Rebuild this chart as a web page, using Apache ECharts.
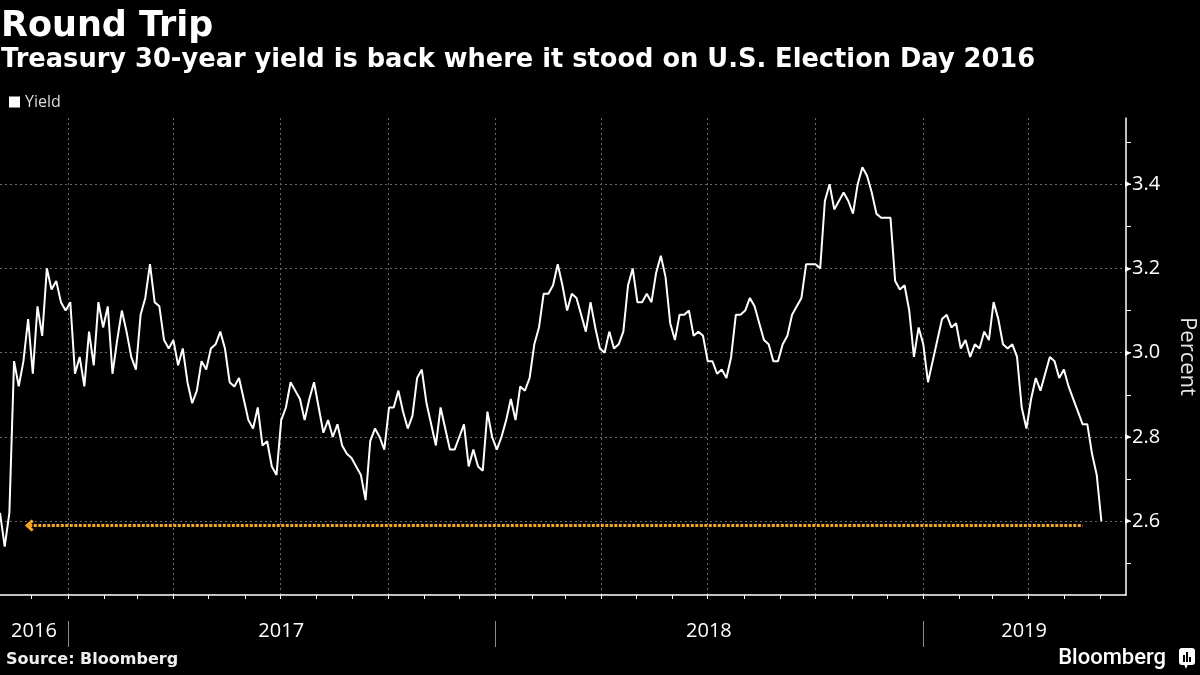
<!DOCTYPE html>
<html><head><meta charset="utf-8">
<script src="https://cdn.jsdelivr.net/npm/echarts@6/dist/echarts.min.js"></script>
<style>html,body{margin:0;background:#000}#c{width:1200px;height:675px}</style>
</head><body><div id="c"></div>
<script>
// ---- data ----
const seriesName = 'Yield';
const startDate = [2016, 10, 4]; // 2016-11-04 (first sample)
const stepDays = 4;              // one sample every 4 days
const yields = [
  2.62,2.54,2.62,2.98,2.92,2.98,3.08,2.95,3.11,3.04,
  3.20,3.15,3.17,3.12,3.10,3.12,2.95,2.99,2.92,3.05,
  2.97,3.12,3.06,3.11,2.95,3.03,3.10,3.05,2.99,2.96,
  3.09,3.13,3.21,3.12,3.11,3.03,3.01,3.03,2.97,3.01,
  2.93,2.88,2.91,2.98,2.96,3.01,3.02,3.05,3.01,2.93,
  2.92,2.94,2.89,2.84,2.82,2.87,2.78,2.79,2.73,2.71,
  2.84,2.87,2.93,2.91,2.89,2.84,2.89,2.93,2.87,2.81,
  2.84,2.80,2.83,2.78,2.76,2.75,2.73,2.71,2.65,2.79,
  2.82,2.80,2.77,2.87,2.87,2.91,2.86,2.82,2.85,2.94,
  2.96,2.88,2.83,2.78,2.87,2.82,2.77,2.77,2.80,2.83,
  2.73,2.77,2.73,2.72,2.86,2.80,2.77,2.80,2.84,2.89,
  2.84,2.92,2.91,2.94,3.02,3.06,3.14,3.14,3.16,3.21,
  3.16,3.10,3.14,3.13,3.09,3.05,3.12,3.06,3.01,3.00,
  3.05,3.01,3.02,3.05,3.16,3.20,3.12,3.12,3.14,3.12,
  3.19,3.23,3.18,3.07,3.03,3.09,3.09,3.10,3.04,3.05,
  3.04,2.98,2.98,2.95,2.96,2.94,2.99,3.09,3.09,3.10,
  3.13,3.11,3.07,3.03,3.02,2.98,2.98,3.02,3.04,3.09,
  3.11,3.13,3.21,3.21,3.21,3.20,3.36,3.40,3.34,3.36,
  3.38,3.36,3.33,3.40,3.44,3.42,3.38,3.33,3.32,3.32,
  3.32,3.17,3.15,3.16,3.10,2.99,3.06,3.02,2.93,2.98,
  3.03,3.08,3.09,3.06,3.07,3.01,3.03,2.99,3.02,3.01,
  3.05,3.03,3.12,3.08,3.02,3.01,3.02,2.99,2.87,2.82,
  2.89,2.94,2.91,2.95,2.99,2.98,2.94,2.96,2.92,2.89,
  2.86,2.83,2.83,2.76,2.71,2.60
];
const electionDayYield = 2.59;
const electionLineFrom = '2016-11-29';
const electionLineTo = '2019-05-17';
const xMin = '2016-11-04';
const xMax = '2019-06-23';
const yMin = 2.425, yMax = 3.557;
const yLabelValues = [2.6, 2.8, 3.0, 3.2, 3.4];
const yTickValues = [2.5, 2.6, 2.7, 2.8, 2.9, 3.0, 3.1, 3.2, 3.3, 3.4, 3.5];
const yearLabels = ['2016', '2017', '2018', '2019'];
const yearLabelDates = ['2016-12-03', '2017-07-02', '2018-07-02', '2019-03-28'];
const yearStarts = ['2017-01-01', '2018-01-01', '2019-01-01'];
const gridQuarterStarts = ['2017-01-01','2017-04-01','2017-07-01','2017-10-01','2018-01-01','2018-04-01','2018-07-01','2018-10-01','2019-01-01','2019-04-01'];
const titleText = 'Round Trip';
const subtitleText = 'Treasury 30-year yield is back where it stood on U.S. Election Day 2016';
const sourceText = 'Source: Bloomberg';
const axisName = 'Percent';

// ---- helpers ----
const ts = s => { const p = s.split('-').map(Number); return new Date(p[0], p[1] - 1, p[2]).getTime(); };
const seriesData = yields.map((v, i) => [new Date(startDate[0], startDate[1], startDate[2] + stepDays * i).getTime(), v]);
const monthTicks = [];
for (let k = 0; k < 31; k++) monthTicks.push(new Date(2016, 11 + k, 1).getTime());
const yearLabelTs = yearLabelDates.map(ts);

const chart = echarts.init(document.getElementById('c'), null, {renderer: 'canvas'});
const gridLine = {show: true, lineStyle: {color: '#6a6a6a', width: 1, type: [2, 3]}};
const labelFont = 'Open Sans';
const xBase = {type: 'value', min: ts(xMin), max: ts(xMax), position: 'bottom', scale: true};

chart.setOption({
  backgroundColor: '#000',
  animation: false,
  title: [
    {text: titleText, left: 1, top: 9, padding: 0,
     textStyle: {color: '#fff', fontSize: 35, fontWeight: 'bold', fontFamily: 'DejaVu Sans'}},
    {text: subtitleText, left: 1, top: 47, padding: 0,
     textStyle: {color: '#fff', fontSize: 25.7, fontWeight: 'bold', fontFamily: 'DejaVu Sans'}}
  ],
  legend: {
    data: [seriesName], left: 4, top: 89, icon: 'rect', itemWidth: 11, itemHeight: 11, itemGap: 4,
    textStyle: {color: '#ddd', fontSize: 16, fontFamily: labelFont}
  },
  grid: {left: 0, right: 74, top: 118, bottom: 80, containLabel: false, outerBoundsMode: 'none'},
  xAxis: [
    Object.assign({}, xBase, {
     axisLine: {show: true, lineStyle: {color: '#fff', width: 1.5}},
     axisTick: {show: true, customValues: monthTicks, length: 4, lineStyle: {color: '#fff', width: 1}},
     axisLabel: {show: true, customValues: yearLabelTs, margin: 26, color: '#fff', fontSize: 20, fontFamily: labelFont,
       formatter: v => { const k = yearLabelTs.indexOf(v); return k >= 0 ? yearLabels[k] : String(new Date(v).getFullYear()); }},
     splitLine: {show: false}}),
    Object.assign({}, xBase, {
     axisLine: {show: false}, axisTick: {show: false, customValues: gridQuarterStarts.map(ts)},
     axisLabel: {show: false}, splitLine: gridLine}),
    Object.assign({}, xBase, {offset: 26,
     axisLine: {show: false},
     axisTick: {show: true, customValues: yearStarts.map(ts), length: 26, lineStyle: {color: '#8a8a8a', width: 1}},
     axisLabel: {show: false}, splitLine: {show: false}})
  ],
  yAxis: [
    {type: 'value', min: yMin, max: yMax, position: 'right',
     name: axisName, nameLocation: 'middle', nameRotate: -90, nameGap: 50,
     nameTextStyle: {color: '#e6e6e6', fontSize: 22, fontFamily: labelFont},
     axisLine: {show: true, lineStyle: {color: '#fff', width: 1.5}},
     axisTick: {show: true, customValues: yTickValues, length: 5, lineStyle: {color: '#fff', width: 1}},
     axisLabel: {show: true, customValues: yLabelValues, margin: -1, color: '#fff',
       formatter: v => '{t|▸}{v|' + v.toFixed(1) + '}',
       rich: {t: {fontSize: 12, color: '#fff', fontFamily: 'DejaVu Sans', padding: [0, 1, 0, 0]},
              v: {fontSize: 20, color: '#fff', fontFamily: labelFont}}},
     splitLine: {show: false}},
    {type: 'value', min: yMin, max: yMax, position: 'right',
     axisLine: {show: false}, axisTick: {show: false, customValues: yLabelValues},
     axisLabel: {show: false}, splitLine: gridLine}
  ],
  series: [{
    name: seriesName, type: 'line', xAxisIndex: 0, yAxisIndex: 0,
    data: seriesData, showSymbol: false, symbol: 'none',
    lineStyle: {color: '#fff', width: 2}, itemStyle: {color: '#fff'},
    z: 5,
    markLine: {
      silent: true, animation: false,
      label: {show: false},
      lineStyle: {color: '#f5a623', width: 3, type: [3, 1.5], opacity: 1},
      symbolSize: [12, 9],
      data: [[
        {coord: [ts(electionLineFrom), electionDayYield], symbol: 'path://M6,0 L12,6 L10,8 L6,4 L2,8 L0,6 Z'},
        {coord: [ts(electionLineTo), electionDayYield], symbol: 'none'}
      ]]
    }
  }],
  graphic: [
    {type: 'text', left: 6, top: 652, style: {text: sourceText, fill: '#eee', font: 'bold 16px "DejaVu Sans"'}},
    {type: 'text', right: 34, top: 647, style: {text: 'Bloomberg', fill: '#fff', font: '500 22px Roboto'}},
    {type: 'group', right: 5, top: 648, children: [
      {type: 'rect', shape: {x: 0, y: 0, width: 16, height: 17, r: 3}, style: {fill: '#fff'}},
      {type: 'polygon', shape: {points: [[5, 16], [9, 16], [7, 21]]}, style: {fill: '#fff'}},
      {type: 'rect', shape: {x: 4, y: 7, width: 2, height: 7}, style: {fill: '#000'}},
      {type: 'rect', shape: {x: 7, y: 4, width: 2, height: 10}, style: {fill: '#000'}},
      {type: 'rect', shape: {x: 10, y: 9, width: 2, height: 5}, style: {fill: '#000'}}
    ]}
  ]
});
</script>
</body></html>
